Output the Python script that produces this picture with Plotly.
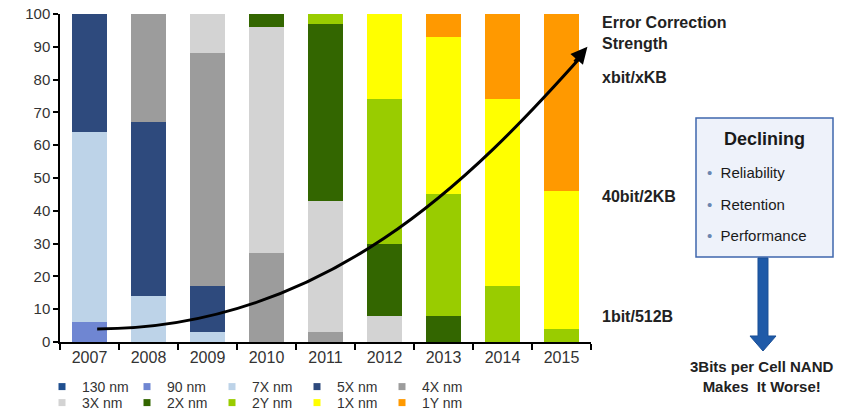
import plotly.graph_objects as go

# ---------------- data ----------------
years = ["2007", "2008", "2009", "2010", "2011", "2012", "2013", "2014", "2015"]
nodes = ["130 nm", "90 nm", "7X nm", "5X nm", "4X nm", "3X nm", "2X nm", "2Y nm", "1X nm", "1Y nm"]
s130 = [0, 0, 0, 0, 0, 0, 0, 0, 0]
s90 = [6, 0, 0, 0, 0, 0, 0, 0, 0]
s7x = [58, 14, 3, 0, 0, 0, 0, 0, 0]
s5x = [36, 53, 14, 0, 0, 0, 0, 0, 0]
s4x = [0, 33, 71, 27, 3, 0, 0, 0, 0]
s3x = [0, 0, 12, 69, 40, 8, 0, 0, 0]
s2x = [0, 0, 0, 4, 54, 22, 8, 0, 0]
s2y = [0, 0, 0, 0, 3, 44, 37, 17, 4]
s1x = [0, 0, 0, 0, 0, 26, 48, 57, 42]
s1y = [0, 0, 0, 0, 0, 0, 7, 26, 54]
series = [s130, s90, s7x, s5x, s4x, s3x, s2x, s2y, s1x, s1y]
yticks = [0, 10, 20, 30, 40, 50, 60, 70, 80, 90, 100]
ecc_labels = ["xbit/xKB", "40bit/2KB", "1bit/512B"]
declining = ["Reliability", "Retention", "Performance"]

colors = ["#1f4f8f", "#6f86d2", "#bdd3e8", "#2e4a7d", "#9c9c9c",
          "#d3d3d3", "#336600", "#99cc00", "#ffff00", "#ff9900"]

W, H = 862, 415
L, R, T, B = 60, 271, 14, 73
PW, PH = W - L - R, H - T - B


def px(x):
    return (x - L) / PW


def py(y):
    return (H - B - y) / PH


FONT = "Liberation Sans, Arial, sans-serif"
xs = list(range(len(years)))

fig = go.Figure()
for name, vals, col in zip(nodes, series, colors):
    fig.add_trace(go.Bar(x=xs, y=vals, name=name, marker=dict(color=col, line=dict(width=0)),
                         showlegend=False, hoverinfo="name+y"))

for i, (name, col) in enumerate(zip(nodes, colors)):
    fig.add_trace(go.Scatter(x=[None], y=[None], mode="markers", name=name,
                             marker=dict(symbol="square", size=7, color=col),
                             legend="legend" if i < 5 else "legend2"))

legend_common = dict(orientation="h", xanchor="left", yanchor="middle",
                     entrywidth=40, entrywidthmode="pixels", itemwidth=30,
                     traceorder="normal",
                     font=dict(family=FONT, size=14, color="#333333"),
                     bgcolor="rgba(0,0,0,0)", tracegroupgap=0)

fig.update_layout(
    width=W, height=H,
    margin=dict(l=L, r=R, t=T, b=B, autoexpand=False),
    paper_bgcolor="white", plot_bgcolor="white",
    barmode="stack", bargap=0.4,
    font=dict(family=FONT, color="#333333"),
    legend=dict(x=px(42), y=py(387), **legend_common),
    legend2=dict(x=px(42), y=py(403), **legend_common),
    xaxis=dict(range=[-0.5, len(years) - 0.5], tickmode="array", tickvals=xs, ticktext=years,
               ticks="", showline=True, linecolor="black", linewidth=1.5,
               showgrid=False, zeroline=False,
               tickfont=dict(family=FONT, size=16, color="#333333"),
               minor=dict(tickmode="array", tickvals=[i - 0.5 for i in range(len(years) + 1)],
                          ticks="outside", ticklen=6, tickcolor="black", tickwidth=1.5)),
    yaxis=dict(range=[0, 100], tickmode="array", tickvals=yticks,
               ticks="outside", ticklen=5, tickcolor="black", tickwidth=1.5,
               showline=True, linecolor="black", linewidth=1.5,
               showgrid=False, zeroline=False,
               tickfont=dict(family=FONT, size=15, color="#333333")),
)

# ECC strength curve (decorative)
fig.add_shape(type="path", xref="x", yref="y",
              path="M 0.13,4 C 4,4 6.5,50 8.36,87.6",
              line=dict(color="black", width=3))
fig.add_annotation(x=8.44, y=90, ax=8.2, ay=85, xref="x", yref="y", axref="x", ayref="y",
                   text="", showarrow=True, arrowhead=2, arrowsize=1.1, arrowwidth=3,
                   arrowcolor="black")

# right side texts
fig.add_annotation(x=px(600), y=py(33), xref="paper", yref="paper", xanchor="left", yanchor="middle",
                   text="<b>Error Correction<br>Strength</b>", showarrow=False, align="left",
                   font=dict(family=FONT, size=16, color="#222222"))
for lab, yy in zip(ecc_labels, [78, 197, 316]):
    fig.add_annotation(x=px(600), y=py(yy), xref="paper", yref="paper", xanchor="left",
                       yanchor="middle", text="<b>%s</b>" % lab, showarrow=False,
                       font=dict(family=FONT, size=16, color="#222222"))

# Declining box
fig.add_shape(type="rect", xref="paper", yref="paper", x0=px(696), x1=px(833), y0=py(257), y1=py(118),
              fillcolor="#eef2fa", line=dict(color="#3f67ad", width=1.5), layer="below")
fig.add_annotation(x=px(764), y=py(139), xref="paper", yref="paper", xanchor="center", yanchor="middle",
                   text="<b>Declining</b>", showarrow=False,
                   font=dict(family=FONT, size=18, color="#1a1a1a"))
for lab, yy in zip(declining, [172, 204, 236]):
    fig.add_annotation(x=px(705), y=py(yy), xref="paper", yref="paper", xanchor="left", yanchor="middle",
                       text="<span style='color:#6a86b0'>•</span>  " + lab, showarrow=False,
                       font=dict(family=FONT, size=15, color="#1a1a1a"))

# blue down arrow
arrow_pts = [(758, 258), (768, 258), (768, 336), (776, 336), (763, 351), (750, 336), (758, 336)]
path = "M " + " L ".join("%.4f,%.4f" % (px(a), py(b)) for a, b in arrow_pts) + " Z"
fig.add_shape(type="path", xref="paper", yref="paper", path=path,
              fillcolor="#1f5aa8", line=dict(color="#1a4f96", width=1))

fig.add_annotation(x=px(762), y=py(376), xref="paper", yref="paper", xanchor="center", yanchor="middle",
                   text="<b>3Bits per Cell NAND<br>Makes  It Worse!</b>", showarrow=False,
                   font=dict(family=FONT, size=15, color="#222222"))

fig.write_html("out.html")
